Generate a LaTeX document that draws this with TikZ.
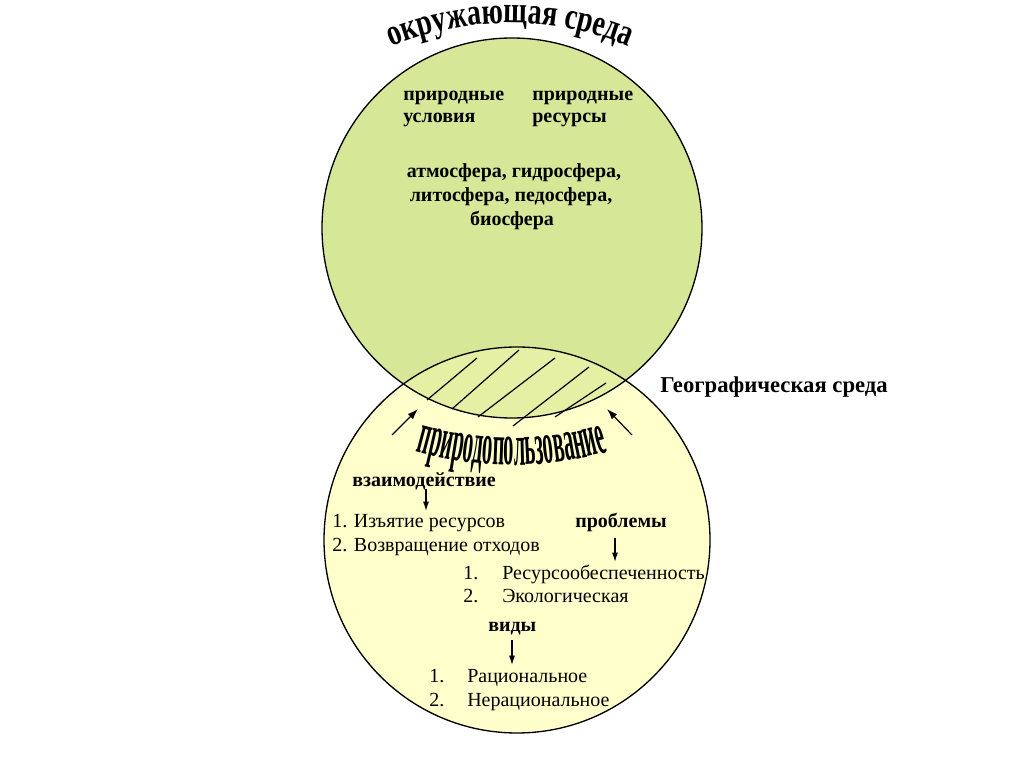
\documentclass[tikz,border=0pt]{standalone}
\usepackage{fontspec}
\usepackage{graphicx}
\setmainfont{Liberation Serif}[BoldFont={Liberation Serif Bold}, ItalicFont={Liberation Serif Italic}, BoldItalicFont={Liberation Serif Bold Italic}]
\usetikzlibrary{arrows.meta}
\definecolor{topgreen}{RGB}{214,231,152}
\definecolor{botyellow}{RGB}{255,255,204}
\definecolor{lenscol}{RGB}{230,240,165}
% measure letters (outside the picture): #1 prefix, #2 xscale, #3 font, #4 letters
\newcommand\measureletters[4]{%
  \gdef\totwtmp{0}%
  \foreach \ch [count=\ci] in {#4}{%
    \setbox0=\hbox{#3\ch}%
    \pgfmathsetmacro\cw{\the\wd0*#2/0.75}%
    \expandafter\xdef\csname cw#1\ci\endcsname{\cw}%
    \pgfmathsetmacro\newt{\totwtmp+\cw}%
    \global\let\totwtmp\newt
  }%
  \expandafter\xdef\csname tw#1\endcsname{\totwtmp}%
}
% #1 cx, #2 cy, #3 R, #4 base angle, #5 dir, #6 xscale, #7 font, #8 letters, #9 prefix
\newcommand\curvetext[9]{%
  \gdef\cumw{0}%
  \foreach \ch [count=\ci] in {#8}{%
    \edef\cw{\csname cw#9\ci\endcsname}%
    \edef\totw{\csname tw#9\endcsname}%
    \pgfmathsetmacro\cphi{(\cumw+\cw/2-\totw/2)/#3*180/pi}%
    \pgfmathsetmacro\cth{#4+#5*\cphi}%
    \pgfmathsetmacro\crot{#5*\cphi}%
    \path (#1,#2) ++(\cth:#3) node[name=#9\ci, anchor=base, inner sep=0pt, rotate=\crot]{\scalebox{#6}[1]{#7\ch}};
    \pgfmathsetmacro\newc{\cumw+\cw}%
    \global\let\cumw\newc
  }%
}
\newcommand\ttlfont{\fontsize{28}{30}\selectfont\bfseries}
\newcommand\prpfont{\fontsize{44}{46}\selectfont\bfseries}
\begin{document}
\measureletters{ttl}{0.75}{\ttlfont}{о,к,р,у,ж,а,ю,щ,а,я,~,с,р,е,д,а}%
\measureletters{prp}{0.35}{\prpfont}{п,р,и,р,о,д,о,п,о,л,ь,з,о,в,а,н,и,е}%
\begin{tikzpicture}[x=0.75pt, y=0.75pt,
  txt/.style={font=\fontsize{15}{18}\selectfont, inner sep=0pt},
  btxt/.style={font=\fontsize{15}{18}\selectfont\bfseries, inner sep=0pt},
  gtxt/.style={font=\fontsize{17}{20}\selectfont\bfseries, inner sep=0pt},
  arr/.style={-{Latex[length=7pt,width=4.5pt]}, line width=0.9pt},
  darr/.style={-{Latex[length=8pt,width=5.5pt]}, line width=0.9pt},
  hatchline/.style={line width=0.9pt},
  circline/.style={line width=1pt}]
\useasboundingbox (0,0) rectangle (1024,767);
\coordinate (ctop) at (512,539);
\coordinate (cbot) at (517,227);
% fills
\fill[botyellow] (cbot) circle[radius=193];
\fill[topgreen] (ctop) circle[radius=190];
\begin{scope}
  \clip (cbot) circle[radius=193];
  \fill[lenscol] (ctop) circle[radius=190];
\end{scope}
\draw[circline] (cbot) circle[radius=193];
\draw[circline] (ctop) circle[radius=190];
% hatch
\foreach \ax/\ay/\bx/\by in {427/367/477/409, 452/358/519/417, 478/350/555/409, 513/341/589/400, 555/350/606/384}{
  \draw[hatchline] (\ax,\ay) -- (\bx,\by);
}
% curved titles
\curvetext{510}{434}{310}{90}{-1}{0.75}{\ttlfont}{о,к,р,у,ж,а,ю,щ,а,я,~,с,р,е,д,а}{ttl}
\curvetext{512}{656}{354}{270}{1}{0.35}{\prpfont}{п,р,и,р,о,д,о,п,о,л,ь,з,о,в,а,н,и,е}{prp}
% top circle text
\node[btxt, anchor=base west] (pu1) at (403,666) {природные};
\node[btxt, anchor=base west] (pu2) at (403,644) {условия};
\node[btxt, anchor=base west] (pr1) at (532,666) {природные};
\node[btxt, anchor=base west] (pr2) at (532,644) {ресурсы};
\node[btxt, anchor=base] (s1) at (514,589) {атмосфера, гидросфера,};
\node[btxt, anchor=base] (s2) at (511,565) {литосфера, педосфера,};
\node[btxt, anchor=base] (s3) at (512,541) {биосфера};
% right label
\node[gtxt, anchor=base west] (geo) at (660,374) {Географическая среда};
% bottom circle text
\node[btxt, anchor=base west] (vz) at (352,280) {взаимодействие};
\node[txt, anchor=base west] (iz) at (332,239) {1. Изъятие ресурсов};
\node[txt, anchor=base west] (vo) at (332,215) {2. Возвращение отходов};
\node[btxt, anchor=base west] (pb) at (575,239) {проблемы};
\node[txt, anchor=base west] (r1) at (463,187) {\makebox[29.25pt][l]{1.}Ресурсообеспеченность};
\node[txt, anchor=base west] (r2) at (463,164) {\makebox[29.25pt][l]{2.}Экологическая};
\node[btxt, anchor=base west] (vd) at (488,135) {виды};
\node[txt, anchor=base west] (n1) at (429,84) {\makebox[28.5pt][l]{1.}Рациональное};
\node[txt, anchor=base west] (n2) at (429,60) {\makebox[28.5pt][l]{2.}Нерациональное};
% arrows
\coordinate (a1s) at (426,278); \coordinate (a1e) at (426,256);
\coordinate (a2s) at (615,229); \coordinate (a2e) at (615,205);
\coordinate (a3s) at (512,127); \coordinate (a3e) at (512,102);
\draw[arr] (a1s) -- (a1e);
\draw[arr] (a2s) -- (a2e);
\draw[arr] (a3s) -- (a3e);
\coordinate (dl1) at (392,332); \coordinate (dl2) at (418,358);
\coordinate (dr1) at (632,332); \coordinate (dr2) at (607,358);
\draw[darr] (dl1) -- (dl2);
\draw[darr] (dr1) -- (dr2);
\end{tikzpicture}
\end{document}
